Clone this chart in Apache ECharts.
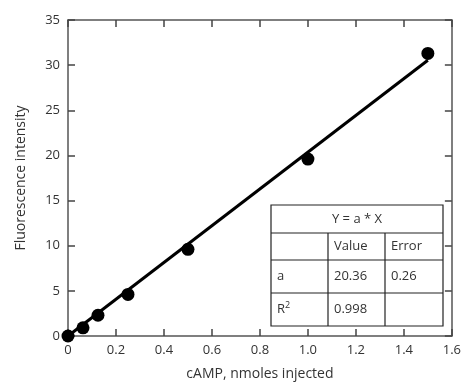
<!DOCTYPE html>
<html>
<head>
<meta charset="utf-8">
<script src="https://cdn.jsdelivr.net/npm/echarts@6/dist/echarts.min.js"></script>
<style>
html,body{margin:0;padding:0;background:#fff;}
#wrap{position:relative;width:464px;height:386px;}
#chart{position:absolute;left:0;top:0;width:464px;height:386px;}
#fit{position:absolute;left:268px;top:202px;width:180px;height:128px;}
</style>
</head>
<body>
<div id="wrap"><div id="chart"></div><div id="fit"></div></div>
<script>
// Measured points
var doses = [0, 0.0625, 0.125, 0.25, 0.5, 1.0, 1.5];
var intensity = [0, 0.9, 2.3, 4.6, 9.6, 19.6, 31.3];
// Fit results: Y = a * X
var fitA = 20.36;
var fitErr = 0.26;
var fitR2 = 0.998;
var fitRange = [0, 1.5];
var xTicks = { min: 0, max: 1.6, step: 0.2 };
var yTicks = { min: 0, max: 35, step: 5 };

var font = 'Open Sans';
var axisColor = '#555';
var textColor = '#333';

var fitLine = fitRange.map(function (x) { return [x, fitA * x]; });
var points = doses.map(function (x, i) { return [x, intensity[i]]; });

// Frame axis: line plus inward ticks
function frameAxis(extra) {
  var base = {
    type: 'value',
    axisLine: { show: true, onZero: false, lineStyle: { color: axisColor, width: 1.5 } },
    axisTick: { show: true, inside: true, length: 7, lineStyle: { color: '#444', width: 1.5 } },
    splitLine: { show: false }
  };
  for (var k in extra) base[k] = extra[k];
  return base;
}

var chart = echarts.init(document.getElementById('chart'));
chart.setOption({
  animation: false,
  grid: { left: 68, right: 9, top: 20, bottom: 48 },
  xAxis: [
    frameAxis({
      min: xTicks.min, max: xTicks.max, interval: xTicks.step,
      name: 'cAMP, nmoles injected', nameLocation: 'middle', nameGap: 31,
      nameTextStyle: { fontSize: 14, color: textColor, fontFamily: font },
      axisLabel: { color: textColor, fontSize: 13, margin: 8, fontFamily: font,
        formatter: function (v) { return v === 0 ? '0' : v.toFixed(1); } }
    }),
    frameAxis({
      position: 'top', min: xTicks.min, max: xTicks.max, interval: xTicks.step,
      axisLabel: { show: false }
    })
  ],
  yAxis: [
    frameAxis({
      min: yTicks.min, max: yTicks.max, interval: yTicks.step,
      name: 'Fluorescence intensity', nameLocation: 'middle', nameGap: 40,
      nameTextStyle: { fontSize: 14, color: textColor, fontFamily: font },
      axisLabel: { color: textColor, fontSize: 13, margin: 8, fontFamily: font }
    }),
    frameAxis({
      position: 'right', min: yTicks.min, max: yTicks.max, interval: yTicks.step,
      axisLabel: { show: false }
    })
  ],
  series: [
    {
      type: 'line', data: fitLine, showSymbol: false, symbol: 'none',
      lineStyle: { color: '#000', width: 3 }, clip: false
    },
    {
      type: 'scatter', data: points, symbol: 'circle', symbolSize: 13,
      itemStyle: { color: '#000', opacity: 1 }, clip: false
    }
  ]
});

// Fit summary table, drawn in its own small canvas on top of the plot
var tb = { x: 3, y: 3, w: 172, rows: [28, 27, 33, 33], cols: [57, 57, 58] };
var graphics = [];
graphics.push({ type: 'rect', shape: { x: tb.x, y: tb.y, width: tb.w, height: 121 },
  style: { fill: '#fff', stroke: '#222', lineWidth: 1.2 } });
var ry = tb.y;
var rowY = [];
for (var r = 0; r < tb.rows.length; r++) { rowY.push(ry); ry += tb.rows[r]; }
for (var r = 1; r < rowY.length; r++) {
  graphics.push({ type: 'line', shape: { x1: tb.x, y1: rowY[r], x2: tb.x + tb.w, y2: rowY[r] },
    style: { stroke: '#222', lineWidth: 1.2 }, z: 1 });
}
var colX = [tb.x, tb.x + tb.cols[0], tb.x + tb.cols[0] + tb.cols[1]];
for (var c = 1; c < colX.length; c++) {
  graphics.push({ type: 'line', shape: { x1: colX[c], y1: rowY[1], x2: colX[c], y2: tb.y + 121 },
    style: { stroke: '#222', lineWidth: 1.2 }, z: 1 });
}
function cellText(txt, x, y, align, rich) {
  graphics.push({ type: 'text', x: x, y: y, z: 2,
    style: { text: txt, fontSize: 13, fontFamily: font, fill: textColor, align: align, verticalAlign: 'middle', rich: rich } });
}
cellText('Y = a * X', tb.x + tb.w / 2, rowY[0] + tb.rows[0] / 2, 'center');
cellText('Value', colX[1] + 6, rowY[1] + tb.rows[1] / 2, 'left');
cellText('Error', colX[2] + 6, rowY[1] + tb.rows[1] / 2, 'left');
cellText('a', colX[0] + 6, rowY[2] + tb.rows[2] / 2, 'left');
cellText(fitA.toFixed(2), colX[1] + 6, rowY[2] + tb.rows[2] / 2, 'left');
cellText(fitErr.toFixed(2), colX[2] + 6, rowY[2] + tb.rows[2] / 2, 'left');
cellText('R{sup|2}', colX[0] + 6, rowY[3] + tb.rows[3] / 2, 'left',
  { sup: { fontSize: 9, fontFamily: font, fill: textColor, verticalAlign: 'top', padding: [0, 0, 8, 0] } });
cellText(fitR2.toFixed(3), colX[1] + 6, rowY[3] + tb.rows[3] / 2, 'left');

var fitChart = echarts.init(document.getElementById('fit'));
fitChart.setOption({ animation: false, graphic: { elements: graphics } });
</script>
</body>
</html>
